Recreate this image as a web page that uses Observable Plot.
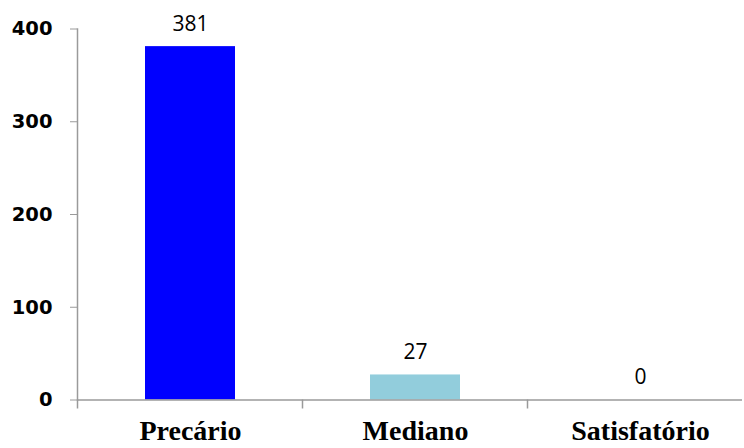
<!DOCTYPE html>
<html>
<head>
<meta charset="utf-8">
<script src="https://cdn.jsdelivr.net/npm/d3@7"></script>
<script src="https://cdn.jsdelivr.net/npm/@observablehq/plot@0.6"></script>
<style>
  html, body { margin: 0; padding: 0; background: #fff; }
  #chart { width: 744px; height: 448px; overflow: hidden; }
</style>
</head>
<body>
<div id="chart"></div>
<script>
const categories = ["Precário", "Mediano", "Satisfatório"];
const values = [381, 27, 0];
const colors = ["#0000FF", "#92CDDC", "#F79646"];
const yTicks = [0, 100, 200, 300, 400];

const data = categories.map((c, i) => ({category: c, value: values[i], color: colors[i]}));
const axisGray = "#9a9a9a";

const plot = Plot.plot({
  width: 744,
  height: 448,
  marginLeft: 77,
  marginRight: 2,
  marginTop: 28.5,
  marginBottom: 48.5,
  style: {background: "#fff", overflow: "visible"},
  x: {domain: categories, range: [77, 752], paddingInner: 0.6, paddingOuter: 0.3, label: null},
  y: {domain: [0, 400], label: null},
  marks: [
    Plot.barY(data, {x: "category", y: "value", fill: "color"}),
    Plot.frame({anchor: "left", stroke: axisGray, strokeWidth: 1.5}),
    Plot.ruleY([0], {stroke: axisGray, strokeWidth: 1.5}),
    Plot.axisY({
      ticks: yTicks, tickSize: 7, tickPadding: 18, stroke: axisGray,
      fontFamily: "DejaVu Sans", fontWeight: "bold", fontSize: 19.5, fill: "#000",
      tickFormat: d => String(d)
    }),
    Plot.axisX({
      tickSize: 0, tickPadding: 20,
      fontFamily: "Liberation Serif", fontWeight: "bold", fontSize: 28, fill: "#000"
    }),
    Plot.text(data, {
      x: "category", y: "value", text: d => String(d.value),
      lineAnchor: "bottom", dy: -16,
      fontFamily: "Open Sans", fontSize: 21, fill: "#000"
    })
  ]
});

// tick marks at the left boundary of each category band on the x axis
const xs = plot.scale("x");
const ys = plot.scale("y");
const svg = d3.select(plot);
const gap = (xs.step - xs.bandwidth) / 2;
const y0 = ys.apply(0);
svg.append("g")
  .attr("stroke", axisGray)
  .attr("stroke-width", 1.5)
  .selectAll("line")
  .data(categories)
  .join("line")
  .attr("x1", d => xs.apply(d) - gap)
  .attr("x2", d => xs.apply(d) - gap)
  .attr("y1", y0)
  .attr("y2", y0 + 9);

document.getElementById("chart").appendChild(plot);
</script>
</body>
</html>
